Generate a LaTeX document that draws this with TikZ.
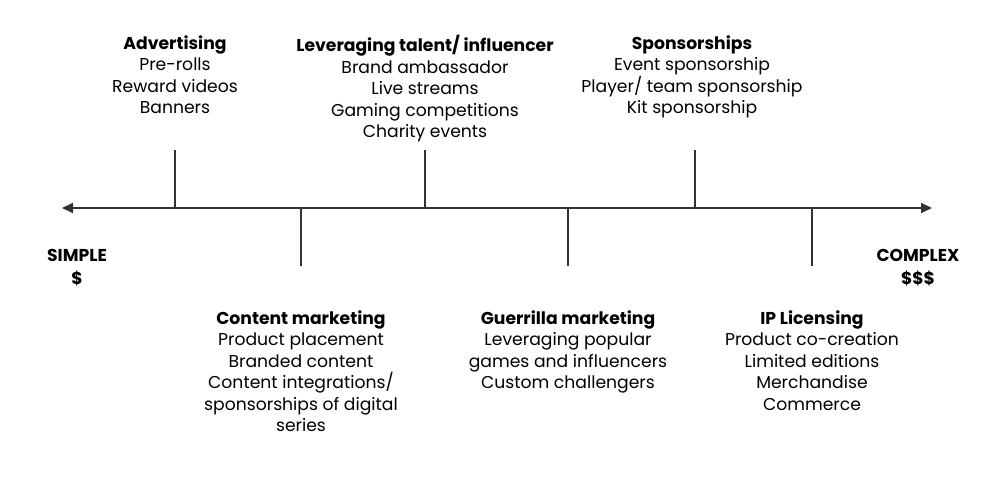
\documentclass[tikz,border=0pt]{standalone}
\usepackage{fontspec}
\setmainfont{Poppins}
\usetikzlibrary{arrows.meta}
\definecolor{axisgray}{HTML}{333333}
\tikzset{
  tickline/.style = {draw=axisgray, line width=1pt},
  label/.style = {
    align = center,
    inner sep = 0pt,
    font = \fontsize{8.6}{10.75}\selectfont,
  },
  endlabel/.style = {
    align = center,
    inner sep = 0pt,
    font = \fontsize{8.6}{11.5}\selectfont\bfseries,
  },
}

\begin{document}
\begin{tikzpicture}[x=0.5pt,y=-0.5pt]
  \useasboundingbox (0,0) rectangle (1000,486);
  % axis
  \coordinate (left)  at ( 62,208);
  \coordinate (right) at (932,208);
  \draw[tickline,{Triangle[length=5.5pt,width=5pt]}-{Triangle[length=5.5pt,width=5pt]}] (left) -- (right);
  % ticks above
  \coordinate (adv)  at (175,208); \coordinate (adv')  at (175,150);
  \coordinate (tal)  at (425,208); \coordinate (tal')  at (425,150);
  \coordinate (spo)  at (695,208); \coordinate (spo')  at (695,150);
  % ticks below
  \coordinate (con)  at (301,208); \coordinate (con')  at (301,266);
  \coordinate (gue)  at (568,208); \coordinate (gue')  at (568,266);
  \coordinate (ipl)  at (812,208); \coordinate (ipl')  at (812,266);
  \draw[tickline] (adv) -- (adv');
  \draw[tickline] (tal) -- (tal');
  \draw[tickline] (spo) -- (spo');
  \draw[tickline] (con) -- (con');
  \draw[tickline] (gue) -- (gue');
  \draw[tickline] (ipl) -- (ipl');
  % texts above
  \node[label,anchor=north](advtext) at (175,35)
    {\textbf{Advertising}\\Pre-rolls\\Reward videos\\Banners};
  \node[label,anchor=north](taltext) at (425,35)
    {\textbf{Leveraging talent/ influencer}\\Brand ambassador\\Live streams\\Gaming competitions\\Charity events};
  \node[label,anchor=north](spotext) at (692,35)
    {\textbf{Sponsorships}\\Event sponsorship\\Player/ team sponsorship\\Kit sponsorship};
  % texts below
  \node[label,anchor=north](context) at (301,310)
    {\textbf{Content marketing}\\Product placement\\Branded content\\Content integrations/\\sponsorships of digital\\series};
  \node[label,anchor=north](guetext) at (568,310)
    {\textbf{Guerrilla marketing}\\Leveraging popular\\games and influencers\\Custom challengers};
  \node[label,anchor=north](ipltext) at (812,310)
    {\textbf{IP Licensing}\\Product co-creation\\Limited editions\\Merchandise\\Commerce};
  % ends
  \node[endlabel,anchor=north](simple)  at ( 77,249) {SIMPLE\\\$};
  \node[endlabel,anchor=north](complex) at (918,249) {COMPLEX\\\$\$\$};
\end{tikzpicture}
\end{document}
